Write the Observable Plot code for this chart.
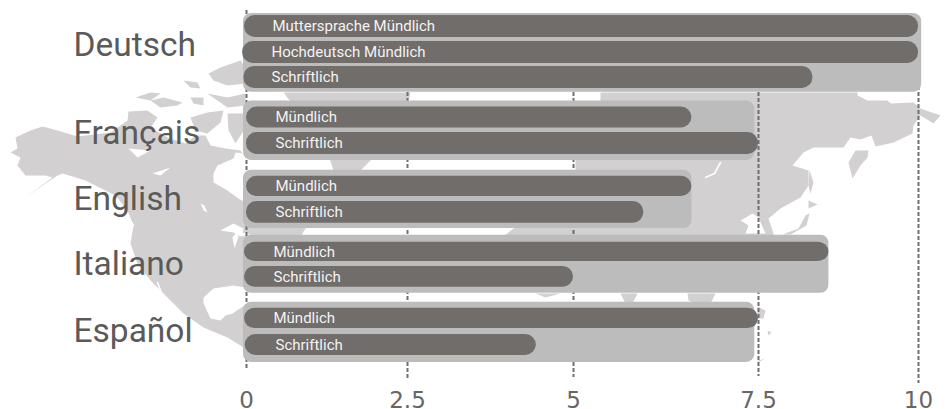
<!DOCTYPE html>
<html><head><meta charset="utf-8">
<script src="https://cdn.jsdelivr.net/npm/d3@7"></script>
<script src="https://cdn.jsdelivr.net/npm/@observablehq/plot@0.6"></script>
<style>html,body{margin:0;padding:0;background:#fff}svg{display:block}
svg g[aria-label="text"]{font-family:Roboto,'Noto Sans',sans-serif}
svg g[aria-label="x-axis tick label"]{font-family:'DejaVu Sans',sans-serif}
</style>
</head><body><div id="chart"></div>
<script>
// ---- data ----
const languages = ["Deutsch","Français","English","Italiano","Español"];
const rowLanguage = [0,0,0,1,1,2,2,3,3,4,4];
const rowLabels = ["Muttersprache Mündlich","Hochdeutsch Mündlich","Schriftlich","Mündlich","Schriftlich","Mündlich","Schriftlich","Mündlich","Schriftlich","Mündlich","Schriftlich"];
const rowValues = [10,10,8.35,6.6,7.5,6.6,5.95,8.6,5,7.5,4.44];
const languageMax = [10.05,7.45,6.6,8.6,7.45];
const tickValues = [0,2.5,5,7.5,10];

// ---- layout (not data) ----
const W=949,H=409,U=26;
const xPx=[246,407,573,758,918];
const x=d3.scaleLinear().domain(tickValues).range(xPx); const toX=x.invert;
const toY=p=>p/U;
const steps=[1,1,0.96,1.54,1,1.65,1,1.52,0.96,1.6,1.02];
const centers=Array.from(d3.cumsum(steps));
const halfBar=[.42,.42,.42,.4,.42,.39,.42,.37,.4,.39,.4];
const barStart=[-.03,-.06,-.04,0,0,0,0,-.03,-.03,-.03,-.02];
const labelLeft=[272,271,271,275,275,275,275,273,273,273,275];
const padTop=[.08,.23,.23,.27,.23], padBot=[.15,.23,.2,.23,.27];
const labelShift=[-.24,.1,0,0,-.02];
const rows=rowLabels.map((label,i)=>({label,value:rowValues[i],c:centers[i],h:halfBar[i],s:barStart[i],lx:toX(labelLeft[i])}));
const groups=languages.map((name,g)=>{
  const cs=rows.filter((r,i)=>rowLanguage[i]===g);
  const top=cs[0].c-cs[0].h-padTop[g], bot=cs[cs.length-1].c+cs[cs.length-1].h+padBot[g];
  return {name,max:languageMax[g],top,bot,mid:(cs[0].c+cs[cs.length-1].c)/2+labelShift[g]};
});

// ---- traced backdrop map outlines ----
const land=[
 [[10,152],[17,148],[15,137],[30,130],[42,126],[57,130],[77,136],[110,132],[127,120],[128,111],[147,110],[157,117],[150,127],[167,137],[185,143],[195,135],[205,135],[210,145],[225,148],[240,150],[250,165],[330,172],[345,190],[350,215],[305,228],[300,236],[270,260],[255,290],[250,305],[250,352],[243,347],[227,337],[203,327],[183,313],[167,297],[150,280],[137,263],[130,243],[133,225],[127,210],[115,195],[95,185],[85,180],[62,173],[57,175],[45,183],[25,197],[52,177],[45,175],[25,175],[17,165],[20,157]],
 [[600,92],[857,92],[857,95],[867,100],[887,100],[890,103],[913,102],[920,108],[940,115],[933,123],[920,115],[913,125],[912,133],[893,142],[875,146],[871,135],[860,139],[850,137],[843,147],[813,147],[803,152],[792,165],[808,170],[808,185],[800,197],[780,208],[768,218],[773,233],[773,238],[500,238],[513,228],[575,170],[575,160],[600,101]]
];
const water=[
 [[213,173],[217,165],[233,158],[235,152],[243,153],[250,158],[340,159],[330,172],[300,200],[250,205],[238,198],[227,190],[213,182]],
 [[128,148],[150,150],[137,157]],[[152,173],[170,167],[160,175]],[[200,203],[204,205],[207,212],[203,210]],
 [[220,230],[233,223],[243,228],[242,232],[250,234],[240,236],[233,232]],[[232,237],[236,232],[238,236],[234,248]],
 [[203,297],[213,288],[233,285],[245,287],[260,287],[260,303],[247,303],[232,313],[225,315],[220,320],[210,318],[203,303]],
 [[740,220],[752,213],[758,217],[765,233],[745,233],[748,225]]
];
const islands=[
 [[135,97],[150,92],[160,93],[150,100]],[[150,100],[163,97],[182,102],[177,105],[160,107]],
 [[183,80],[197,82],[200,88],[190,87]],[[208,73],[220,67],[240,60],[245,67],[245,83],[227,85],[213,80]],
 [[190,97],[203,97],[203,105],[193,103]],[[207,93],[227,97],[245,93],[245,105],[227,107],[217,100]],
 [[227,113],[245,113],[245,127],[235,143],[228,130]],[[190,117],[207,112],[223,110],[220,122],[207,133],[195,130]],
 [[283,92],[410,92],[408,101],[400,130],[360,170],[333,170],[320,130],[290,101]],
 [[868,150],[867,157],[860,165],[852,178],[848,162],[855,150]],
 [[809,170],[813,182],[810,193],[808,185]],[[808,200],[817,204],[808,208]],[[805,215],[809,213],[806,225],[790,234],[782,234],[798,228]],
 [[620,293],[637,293],[632,303],[625,303]],[[687,293],[715,293],[710,303],[695,303],[688,300]],[[535,293],[560,293],[545,297]],
 [[757,306],[765,310],[763,318],[757,318]],[[767,330],[771,332],[768,335]],[[757,362],[765,358],[758,360]]
];
const whiteLines=[[[705,177],[714,173],[720,162]],[[157,282],[162,295],[170,305]],[[128,218],[133,225]]];
const poly=(pts,fill)=>Plot.line(pts,{x:d=>toX(d[0]),y:d=>toY(d[1]),fill,stroke:"none"});

const ruleEnds=[[10,370],[20,378],[20,377],[20,376],[20,383]];
const chart=Plot.plot({
  width:W,height:H,marginTop:0,marginLeft:0,marginRight:0,marginBottom:28,
  x:{type:"linear",domain:tickValues,range:xPx},
  y:{type:"linear",domain:[0,H/U],range:[0,H]},
  marks:[
    ...land.map(p=>poly(p,"#d2d0d0")),
    ...water.map(p=>poly(p,"#ffffff")),
    ...islands.map(p=>poly(p,"#d2d0d0")),
    ...whiteLines.map(p=>Plot.line(p,{x:d=>toX(d[0]),y:d=>toY(d[1]),stroke:"#fff",strokeWidth:1.6})),
    Plot.ruleX(tickValues,{x:d=>d,y1:(d,i)=>toY(ruleEnds[i][0]),y2:(d,i)=>toY(ruleEnds[i][1]),stroke:"#6f6f6f",strokeWidth:2,strokeDasharray:"4,2"}),
    Plot.rect(groups,{x1:0,x2:"max",y1:"top",y2:"bot",fill:"#bdbcbc",rx:8,insetLeft:-3}),
    Plot.rect(rows,{x1:"s",x2:"value",y1:d=>d.c-d.h,y2:d=>d.c+d.h,fill:"#716d6b",rx:10.5}),
    Plot.text(rows,{x:"lx",y:"c",text:"label",fill:"#f4f3f2",textAnchor:"start",fontSize:15}),
    Plot.text(groups,{x:()=>toX(73),y:"mid",text:"name",textAnchor:"start",fontSize:33.5,fill:"#5a5a5a"}),
    Plot.axisX({ticks:tickValues,tickSize:0,tickPadding:10,tickFormat:String,fontSize:23,color:"#666",label:null})
  ]
});
document.getElementById("chart").append(chart);
</script></body></html>
